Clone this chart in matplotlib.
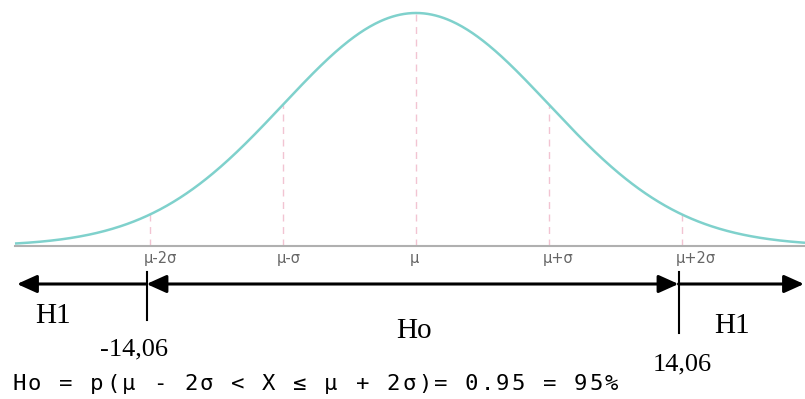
import numpy as np
import matplotlib.pyplot as plt

# tick positions in sigma units and their labels
sig_pos = [-2, -1, 0, 1, 2]
sig_labels = ["μ-2σ", "μ-σ", "μ", "μ+σ", "μ+2σ"]
crit_values = ["-14,06", "14,06"]
region_labels = ["H1", "Ho", "H1"]
formula = "Ho = p(μ - 2σ < X ≤ μ + 2σ)= 0.95 = 95%"

W, H = 805, 399
MU_PX, SIG_PX, BASE_PX, PEAK_PX = 416, 133, 246, 233


def X(px):
    return (px - MU_PX) / SIG_PX


def Y(py):
    return (BASE_PX - py) / PEAK_PX


fig = plt.figure(figsize=(W / 100, H / 100), dpi=100)
ax = fig.add_axes([0, 0, 1, 1])
ax.set_xlim(X(0), X(W))
ax.set_ylim(Y(H), Y(0))
ax.axis("off")

curve_col = "#7fd1cc"
dash_col = "#f2c4d2"

z = np.linspace(X(15), X(W), 600)
pdf = np.exp(-z ** 2 / 2)
ax.plot(z, pdf, color=curve_col, lw=1.8, solid_capstyle="butt", zorder=3)

# baseline
ax.plot([X(15), X(W)], [0, 0], color="#b0b0b0", lw=1.5, zorder=2)

# dashed guides and tick labels
for p, lab in zip(sig_pos, sig_labels):
    ax.plot([p, p], [0, np.exp(-p ** 2 / 2)], color=dash_col, lw=1.0,
            ls=(0, (5, 4)), zorder=1)
    ax.text(p - 6 / SIG_PX, Y(251), lab, ha="left", va="top",
            fontsize=10.5, color="#666666", family="DejaVu Sans")

# arrows
ya = Y(284)
off = -3.5 / SIG_PX
xl, xr = -2 + off, 2 + off
arr = dict(lw=2.2, color="black", shrinkA=0, shrinkB=0, mutation_scale=20)
ax.annotate("", xy=(X(17), ya), xytext=(xl, ya),
            arrowprops=dict(arrowstyle="-|>,head_length=0.6,head_width=0.27", **arr))
ax.annotate("", xy=(X(804), ya), xytext=(xr, ya),
            arrowprops=dict(arrowstyle="-|>,head_length=0.6,head_width=0.27", **arr))
ax.annotate("", xy=(xr, ya), xytext=(xl, ya),
            arrowprops=dict(arrowstyle="<|-|>,head_length=0.6,head_width=0.27", **arr))
ax.plot([xl, xl], [Y(272), Y(320)], color="black", lw=1.5)
ax.plot([xr, xr], [Y(272), Y(333)], color="black", lw=1.5)

serif = "Liberation Serif"
ax.text(X(53.5), Y(323), region_labels[0], ha="center", va="baseline",
        fontsize=21, family=serif)
ax.text(X(413.5), Y(338), region_labels[1], ha="center", va="baseline",
        fontsize=21, family=serif)
ax.text(X(731.5), Y(333), region_labels[2], ha="center", va="baseline",
        fontsize=21, family=serif)
ax.text(X(134), Y(355), crit_values[0], ha="center", va="baseline",
        fontsize=19, family=serif)
ax.text(X(682.5), Y(370), crit_values[1], ha="center", va="baseline",
        fontsize=19, family=serif)

# spaced formula line
adv = 15.6
for i, ch in enumerate(formula):
    ax.text(X(19 + i * adv), Y(390), ch, ha="center", va="baseline",
            fontsize=16, family="DejaVu Sans Mono")

fig.savefig("out.png", dpi=100)
